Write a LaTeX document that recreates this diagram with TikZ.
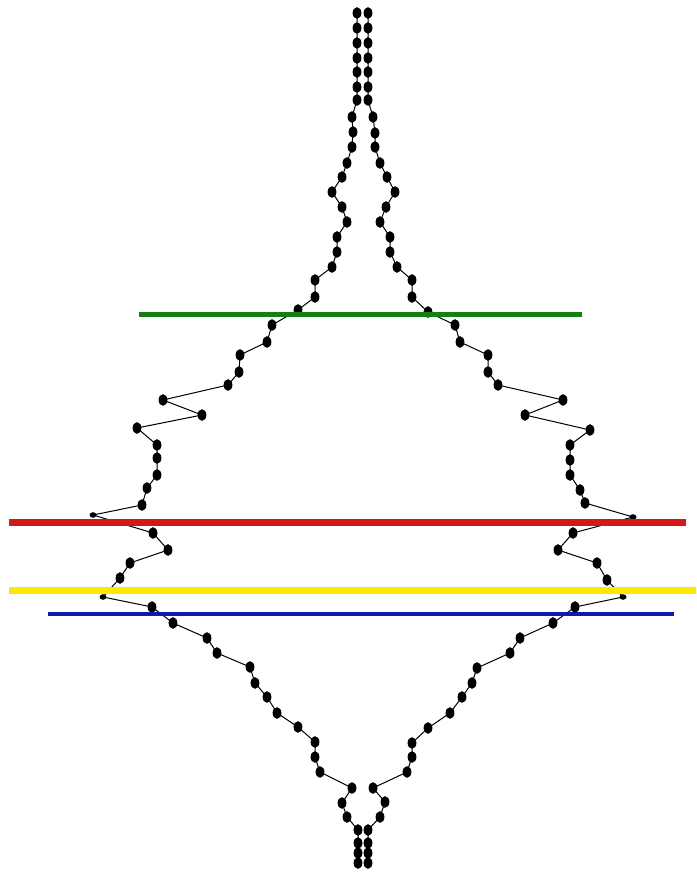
\documentclass[tikz,border=0pt]{standalone}
\usepackage{tikz}

\definecolor{cutgreen}{RGB}{20,128,20}
\definecolor{cutred}{RGB}{210,25,25}
\definecolor{cutyellow}{RGB}{255,232,0}
\definecolor{cutblue}{RGB}{15,25,175}

% outline points, top to bottom
\def\leftpts{(357,13),(357,28),(357,43),(357,58),(357,72),(357,87),(357,100),(352,117),(353,132),(352,147),(347,163),(342,177),(332,192),(342,207),(347,222),(337,237),(337,252),(332,267),(315,280),(315,297),(298,310),(272,325),(267,342),(240,355),(239,372),(228,385),(163,400),(202,415),(137,428),(157,445),(157,458),(157,475),(147,488),(142,505),(93,515),(153,533),(168,550),(130,563),(120,578),(103,597),(152,607),(173,623),(207,638),(217,653),(250,667),(255,683),(267,697),(277,713),(298,727),(315,742),(315,757),(320,772),(352,788),(342,803),(347,817),(358,830),(358,843),(358,853),(358,863)}
\def\rightpts{(368,13),(368,28),(368,43),(368,58),(368,72),(368,87),(368,100),(373,117),(375,133),(375,147),(380,163),(387,177),(395,192),(386,207),(380,222),(390,237),(390,252),(397,267),(412,280),(412,297),(428,312),(455,325),(460,342),(488,355),(488,372),(498,385),(563,400),(525,415),(590,430),(570,445),(570,460),(570,475),(580,490),(585,503),(633,517),(573,533),(558,550),(597,563),(607,580),(623,597),(575,607),(553,623),(520,638),(510,653),(477,668),(472,683),(462,697),(450,713),(428,728),(412,743),(412,757),(407,772),(373,788),(385,802),(380,817),(368,830),(368,843),(368,853),(368,863)}

\begin{document}
\begin{tikzpicture}[
    x=1pt, y=-1pt,
    outline/.style={line width=1pt, black},
    dotmark/.style={fill=black},
    cutline/.style={line width=#1, line cap=butt}
]
    \useasboundingbox [fill=white] (0,0) rectangle (696,872);

    \foreach \p [count=\i] in \leftpts {\path \p coordinate (l\i);}
    \foreach \p [count=\i] in \rightpts {\path \p coordinate (r\i);}

    % the two chains
    \draw [outline] (l1) \foreach \i in {2,...,59} {-- (l\i)};
    \draw [outline] (r1) \foreach \i in {2,...,59} {-- (r\i)};
    \foreach \i in {1,...,34,36,37,38,39,41,42,...,59} {
        \fill [dotmark] (l\i) ellipse (4.4 and 5.8);
        \fill [dotmark] (r\i) ellipse (4.4 and 5.8);
    }
    \foreach \i in {35,40} {
        \fill [dotmark] (l\i) ellipse (3.5 and 2.8);
        \fill [dotmark] (r\i) ellipse (3.5 and 2.8);
    }

    % cut lines
    \draw [cutline=5pt, cutgreen] (139,314) -- (582,314);
    \draw [cutline=7pt, cutred] (9,522) -- (686,522);
    \draw [cutline=7pt, cutyellow] (9,590) -- (696,590);
    \draw [cutline=4.5pt, cutblue] (48,614) -- (674,614);
\end{tikzpicture}
\end{document}
